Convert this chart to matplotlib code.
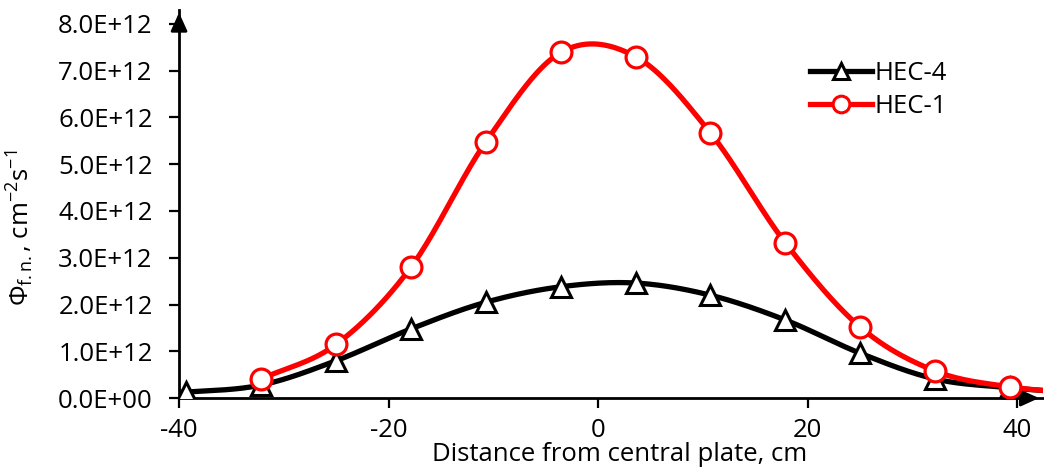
import numpy as np
import matplotlib
matplotlib.use("Agg")
import matplotlib.pyplot as plt

# distance from central plate, cm (extra points outside the axis range are clipped)
x_hec4 = [-46.43, -39.29, -32.14, -25.0, -17.86, -10.71, -3.57, 3.57, 10.71, 17.86, 25.0, 32.14, 39.29, 46.43]
y_hec4 = [0.07, 0.13, 0.28, 0.80, 1.48, 2.05, 2.38, 2.46, 2.20, 1.67, 0.96, 0.41, 0.22, 0.10]

x_hec1 = [-32.14, -25.0, -17.86, -10.71, -3.57, 3.57, 10.71, 17.86, 25.0, 32.14, 39.29, 46.43]
y_hec1 = [0.41, 1.15, 2.80, 5.48, 7.39, 7.30, 5.67, 3.32, 1.52, 0.58, 0.24, 0.10]

scale = 1e12
x_ticks = [-40, -20, 0, 20, 40]
y_ticks = [0, 1, 2, 3, 4, 5, 6, 7, 8]


def smooth(xs, ys, n=40):
    # Catmull-Rom through the points, like Excel's smoothed line
    p = np.column_stack([xs, ys]).astype(float)
    p = np.vstack([2 * p[0] - p[1], p, 2 * p[-1] - p[-2]])
    out = []
    t = np.linspace(0, 1, n)[:, None]
    for i in range(1, len(p) - 2):
        p0, p1, p2, p3 = p[i - 1], p[i], p[i + 1], p[i + 2]
        c1 = p1 + (p2 - p0) / 6
        c2 = p2 - (p3 - p1) / 6
        seg = ((1 - t) ** 3) * p1 + 3 * ((1 - t) ** 2) * t * c1 + 3 * (1 - t) * t ** 2 * c2 + t ** 3 * p2
        out.append(seg)
    out = np.vstack(out)
    return out[:, 0], out[:, 1]


plt.rcParams['font.family'] = ['Open Sans', 'DejaVu Sans']
plt.rcParams['mathtext.fontset'] = 'custom'
plt.rcParams['mathtext.rm'] = 'Open Sans'
plt.rcParams['mathtext.it'] = 'Open Sans:italic'

fs = 18.5

fig = plt.figure(figsize=(10.44, 4.70), dpi=100)
ax = fig.add_axes([0.1715, 0.153, 0.828, 0.826])

sx, sy = smooth(x_hec4, np.array(y_hec4) * scale)
ax.plot(sx, sy, '-', color='black', lw=3.8, solid_capstyle='round', zorder=3)
ax.plot(x_hec4, np.array(y_hec4) * scale, '^', ms=14, mfc='white', mec='black', mew=2.2, zorder=4)

sx, sy = smooth(x_hec1, np.array(y_hec1) * scale)
ax.plot(sx, sy, '-', color='#ff0000', lw=3.8, solid_capstyle='round', zorder=5)
ax.plot(x_hec1, np.array(y_hec1) * scale, 'o', ms=15, mfc='white', mec='#ff0000', mew=2.3, zorder=6)

# legend proxies
h4, = ax.plot([], [], '-^', color='black', lw=3.8, ms=12, mfc='white', mec='black', mew=2.2)
h1, = ax.plot([], [], '-o', color='#ff0000', lw=3.8, ms=12, mfc='white', mec='#ff0000', mew=2.2)
leg = ax.legend([h4, h1], ['HEC-4', 'HEC-1'], loc='upper right', bbox_to_anchor=(0.9, 0.895),
                frameon=False, fontsize=fs, handlelength=2.4, handletextpad=0.1, labelspacing=0.31,
                borderaxespad=0)

ax.set_xlim(-40, 42.5)
ax.set_ylim(0, 8.3 * scale)
ax.set_xticks(x_ticks)
ax.set_xticklabels([str(v) for v in x_ticks])
ax.set_yticks([v * scale for v in y_ticks])
ax.set_yticklabels(['%.1fE+%02d' % (v, 12 if v else 0) for v in y_ticks])

for s in ['top', 'right']:
    ax.spines[s].set_visible(False)
for s in ['left', 'bottom']:
    ax.spines[s].set_linewidth(2.0)
ax.tick_params(axis='both', direction='out', length=7, width=1.6, labelsize=fs, pad=12)
ax.tick_params(axis='x', pad=7)

# axis arrows
ax.annotate('', xy=(0, 1.0), xytext=(0, 0.95), xycoords='axes fraction',
            arrowprops=dict(arrowstyle='-|>,head_length=1.1,head_width=0.5', color='black', lw=2),
            annotation_clip=False)
ax.annotate('', xy=(0.998, 0), xytext=(0.95, 0), xycoords='axes fraction',
            arrowprops=dict(arrowstyle='-|>,head_length=1.1,head_width=0.5', color='black', lw=2),
            annotation_clip=False)

ax.set_xlabel('Distance from central plate, cm', fontsize=fs)
ax.set_ylabel(r'$\Phi_{\mathrm{f.n.}}$, cm$^{-2}$s$^{-1}$', fontsize=fs)
ax.xaxis.set_label_coords(0.51, -0.112)
ax.yaxis.set_label_coords(-0.1655, 0.44)

fig.savefig('out.png', dpi=100)
